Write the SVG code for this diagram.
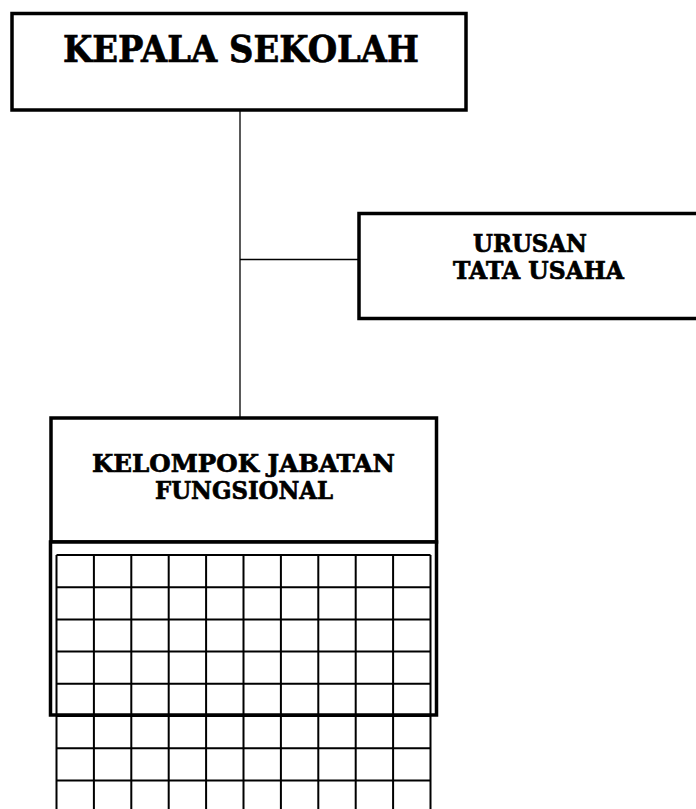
<svg xmlns="http://www.w3.org/2000/svg" width="696" height="809" viewBox="0 0 696 809">
<style>
.box{fill:#fff;stroke:#000;stroke-width:3.5}
.lbl{font-family:"DejaVu Serif","Liberation Serif",serif;font-weight:bold;fill:#000;stroke:#000;stroke-width:0.7}
.conn{stroke:#000;stroke-width:1.3;fill:none}
.grid{stroke:#000;stroke-width:2;fill:none}
</style>
<rect width="696" height="809" fill="#fff"/>
<g id="connectors">
<line class="conn" x1="240" y1="110" x2="240" y2="418"/>
<line class="conn" x1="240" y1="259.5" x2="358" y2="259.5"/>
</g>
<g id="kepala-sekolah">
<rect class="box" x="12" y="13.5" width="454" height="96.5"/>
<text class="lbl" x="63" y="62" font-size="37" textLength="356" lengthAdjust="spacingAndGlyphs">KEPALA SEKOLAH</text>
</g>
<g id="urusan-tata-usaha">
<rect class="box" x="359" y="213.5" width="345" height="105"/>
<text class="lbl" x="473" y="251.5" font-size="23.5" textLength="114" lengthAdjust="spacingAndGlyphs">URUSAN</text>
<text class="lbl" x="453" y="279" font-size="23.5" textLength="171" lengthAdjust="spacingAndGlyphs">TATA USAHA</text>
</g>
<g id="kelompok-jabatan-fungsional">
<rect class="box" x="51" y="418" width="385.5" height="124"/>
<text class="lbl" x="92" y="471.5" font-size="25" textLength="303" lengthAdjust="spacingAndGlyphs">KELOMPOK JABATAN</text>
<text class="lbl" x="155" y="498.5" font-size="25" textLength="178" lengthAdjust="spacingAndGlyphs">FUNGSIONAL</text>
<rect class="box" x="50.5" y="542" width="386" height="173"/>
<path class="grid" d="M56.5 555V812M93.9 555V812M131.3 555V812M168.7 555V812M206.1 555V812M243.5 555V812M280.9 555V812M318.3 555V812M355.7 555V812M393.1 555V812M430.5 555V812
M56.5 555H430.5M56.5 587.2H430.5M56.5 619.4H430.5M56.5 651.6H430.5M56.5 683.8H430.5M56.5 716H430.5M56.5 748.2H430.5M56.5 780.4H430.5"/>
</g>
</svg>
